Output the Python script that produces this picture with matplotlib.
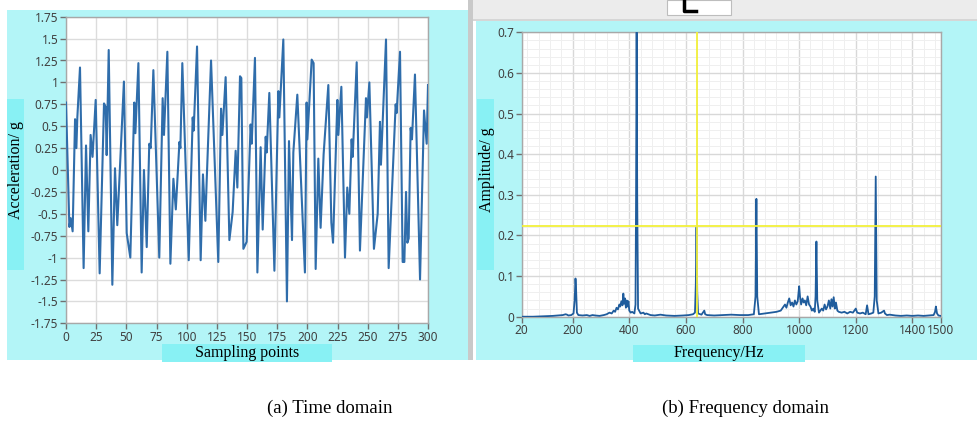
import numpy as np
import matplotlib
matplotlib.use('Agg')
import matplotlib.pyplot as plt
from matplotlib.patches import Rectangle
from matplotlib.lines import Line2D
from matplotlib.ticker import MultipleLocator

# 时域信号（采样点, 加速度）
sample_idx = [0, 2.8, 3.9, 5.5, 7.5, 8.6, 9.4, 11.6, 14.6, 16.6,
              18.5, 20.4, 22.0, 24.6, 27.9, 31.5, 32.9, 33.7, 35.4, 38.4,
              40.6, 42.5, 48.0, 50.3, 53.3, 56.6, 57.5, 60.0, 62.7, 64.6,
              66.9, 69.0, 70.2, 72.4, 77.3, 80.1, 81.2, 84.0, 86.5, 89.0,
              91.0, 94.0, 94.8, 96.4, 101.7, 105.0, 105.8, 108.6, 111.6, 113.5,
              115.5, 116.6, 120.2, 126.2, 128.5, 129.6, 132.3, 135.4, 138.1, 140.6,
              142.0, 144.2, 145.3, 147.0, 149.7, 153.0, 153.9, 156.6, 158.6, 161.3,
              163.0, 165.5, 166.3, 168.5, 172.7, 176.0, 176.8, 180.1, 183.1, 184.8,
              187.3, 188.4, 191.7, 198.0, 199.4, 200.0, 203.6, 205.2, 206.9, 209.1,
              211.0, 213.5, 217.4, 219.9, 221.3, 224.9, 225.7, 228.2, 231.2, 233.1,
              234.8, 236.7, 237.6, 240.9, 243.6, 248.6, 249.4, 251.4, 255.2, 258.3,
              260.2, 261.0, 265.2, 267.4, 273.2, 274.0, 276.8, 279.0, 280.4, 281.8,
              282.9, 284.0, 285.6, 286.7, 289.2, 293.4, 296.7, 298.9, 300.0]
accel_g = [0.77, -0.65, -0.55, -0.70, 0.58, 0.25, 0.60, 1.17, -1.12, 0.28,
           -0.70, 0.40, 0.15, 0.80, -1.18, 0.76, 0.72, 0.17, 1.37, -1.31,
           0.02, -0.63, 1.01, -0.72, -1.00, 0.77, 0.42, 1.22, -1.17, 0.00,
           -0.88, 0.30, 0.25, 1.14, -1.00, 0.82, 0.40, 1.35, -1.07, -0.10,
           -0.45, 0.32, 0.25, 1.22, -1.03, 0.60, 0.45, 1.41, -1.03, -0.05,
           -0.58, -0.12, 1.25, -1.05, 0.70, 0.40, 1.06, -0.80, -0.48, 0.22,
           -0.20, 1.07, 1.05, -0.90, -0.82, 0.52, 0.30, 1.28, -1.17, 0.26,
           -0.68, 0.38, 0.20, 0.88, -1.15, 0.90, 0.60, 1.49, -1.50, 0.33,
           -0.80, 0.20, 0.86, -1.17, 0.77, 0.35, 1.26, 1.22, -1.13, 0.13,
           -0.66, 0.18, 0.97, -0.60, -0.83, 0.80, 0.40, 0.95, -1.00, -0.20,
           -0.50, 0.35, 0.15, 1.23, -0.92, 0.82, 0.60, 1.00, -0.90, -0.50,
           0.55, 0.06, 1.49, -1.12, 0.75, 0.65, 1.35, -1.05, -1.05, -0.25,
           -0.83, -0.78, 0.48, 0.35, 1.09, -1.25, 0.68, 0.30, 0.97]

# 频域幅值谱（频率, 幅值）
freq_hz = [20, 60, 100, 130, 150, 165, 175, 180, 185, 195,
           203, 207, 210, 212, 215, 220, 235, 250, 260, 270,
           280, 295, 310, 320, 330, 338, 345, 350, 355, 360,
           365, 368, 372, 376, 379, 382, 385, 388, 391, 394,
           397, 400, 405, 410, 418, 422, 424, 426, 428, 431,
           440, 450, 455, 460, 475, 490, 510, 530, 560, 590,
           610, 625, 632, 635, 637.5, 640, 643, 655, 665, 668,
           675, 700, 730, 760, 790, 820, 840, 846, 849, 852,
           858, 880, 900, 920, 935, 945, 950, 955, 960, 965,
           970, 975, 980, 985, 990, 995, 1000, 1003, 1007, 1012,
           1016, 1020, 1025, 1030, 1035, 1040, 1045, 1050, 1055, 1058,
           1061, 1064, 1070, 1080, 1085, 1090, 1095, 1100, 1105, 1110,
           1114, 1118, 1122, 1126, 1130, 1135, 1140, 1150, 1160, 1170,
           1180, 1190, 1200, 1205, 1215, 1225, 1235, 1240, 1245, 1255,
           1262, 1267, 1270.5, 1274, 1280, 1290, 1300, 1303, 1310, 1320,
           1340, 1360, 1380, 1400, 1420, 1440, 1460, 1475, 1480, 1483,
           1487, 1492, 1500]
amp_g = [0.000, 0.000, 0.001, 0.002, 0.003, 0.004, 0.006, 0.005, 0.003, 0.004,
         0.008, 0.040, 0.094, 0.070, 0.010, 0.004, 0.003, 0.004, 0.002, 0.004,
         0.003, 0.002, 0.004, 0.006, 0.010, 0.008, 0.015, 0.012, 0.022, 0.018,
         0.030, 0.025, 0.038, 0.028, 0.057, 0.032, 0.045, 0.022, 0.040, 0.025,
         0.038, 0.015, 0.010, 0.012, 0.008, 0.030, 0.300, 0.700, 0.300, 0.020,
         0.008, 0.010, 0.006, 0.008, 0.004, 0.003, 0.005, 0.003, 0.002, 0.003,
         0.004, 0.006, 0.010, 0.080, 0.220, 0.060, 0.008, 0.005, 0.015, 0.006,
         0.004, 0.003, 0.004, 0.005, 0.004, 0.004, 0.006, 0.050, 0.290, 0.050,
         0.006, 0.008, 0.010, 0.012, 0.015, 0.025, 0.030, 0.022, 0.035, 0.045,
         0.028, 0.035, 0.025, 0.040, 0.030, 0.038, 0.075, 0.050, 0.030, 0.045,
         0.035, 0.040, 0.028, 0.050, 0.030, 0.025, 0.015, 0.020, 0.012, 0.050,
         0.185, 0.040, 0.010, 0.020, 0.015, 0.030, 0.018, 0.025, 0.040, 0.020,
         0.043, 0.025, 0.048, 0.020, 0.035, 0.015, 0.012, 0.010, 0.012, 0.008,
         0.012, 0.010, 0.020, 0.010, 0.008, 0.010, 0.006, 0.028, 0.006, 0.008,
         0.010, 0.050, 0.345, 0.040, 0.008, 0.010, 0.015, 0.008, 0.004, 0.005,
         0.003, 0.002, 0.003, 0.002, 0.003, 0.002, 0.003, 0.004, 0.012, 0.025,
         0.008, 0.003, 0.002]

# 游标位置
cursor_f = 637.5
cursor_a = 0.223

time_yticks = [1.75, 1.5, 1.25, 1, 0.75, 0.5, 0.25, 0, -0.25, -0.5, -0.75,
               -1, -1.25, -1.5, -1.75]
freq_xticks = [20, 200, 400, 600, 800, 1000, 1200, 1400, 1500]

W, H = 977, 423
fig = plt.figure(figsize=(W / 100, H / 100), dpi=100)
fig.patch.set_facecolor('white')

panel_c = '#b3f5f7'
label_c = '#88f1f4'
tick_c = '#404040'
line_c = '#2f6dab'
tick_font = 'Noto Sans'
serif = 'Liberation Serif'


def px_rect(x0, y0, x1, y1, color, z=0, **kw):
    # 像素坐标 -> figure 坐标
    r = Rectangle((x0 / W, 1 - y1 / H), (x1 - x0) / W, (y1 - y0) / H,
                  transform=fig.transFigure, facecolor=color, edgecolor=kw.pop('ec', 'none'),
                  zorder=z, **kw)
    fig.add_artist(r)


def px_ax(x0, y0, x1, y1):
    return fig.add_axes([x0 / W, 1 - y1 / H, (x1 - x0) / W, (y1 - y0) / H])


# 背景面板
px_rect(7, 10, 468, 360, panel_c)
px_rect(468, 0, 473, 360, '#c9c9c9')
px_rect(473, 0, 977, 20, '#ececec')
px_rect(473, 19, 977, 21, '#d6d6d6')
px_rect(476, 21, 977, 360, panel_c)
px_rect(667, 0, 731, 15, 'white', z=1, ec='#bdbdbd', lw=0.8)
# 按钮上的小图标
fig.add_artist(Line2D([684 / W, 684 / W, 696 / W], [1, 1 - 11 / H, 1 - 11 / H],
                      transform=fig.transFigure, color='black', lw=2.5, zorder=2))

# 标签底色
px_rect(7, 99, 24, 270, label_c)
px_rect(162, 344, 332, 362, label_c)
px_rect(477, 99, 494, 270, label_c)
px_rect(633, 345, 805, 362, label_c)

# ---------------- (a) 时域 ----------------
ax1 = px_ax(66, 16.7, 428, 323.3)
ax1.plot(sample_idx, accel_g, color=line_c, lw=1.5, zorder=3)
ax1.set_xlim(0, 300)
ax1.set_ylim(-1.75, 1.75)
ax1.set_xticks(np.arange(0, 301, 25))
ax1.set_yticks(time_yticks)
ax1.set_yticklabels(['%g' % v for v in time_yticks])
ax1.grid(True, color='#dcdcdc', lw=1.0)

# ---------------- (b) 频域 ----------------
ax2 = px_ax(521.7, 32.3, 940.7, 316.7)
ax2.plot(freq_hz, amp_g, color='#1f5c9c', lw=1.3, zorder=3)
ax2.axvline(cursor_f, color='#f2f03a', lw=1.3, zorder=4)
ax2.axhline(cursor_a, color='#f2f03a', lw=1.3, zorder=4)
ax2.set_xlim(20, 1500)
ax2.set_ylim(0, 0.7)
ax2.set_xticks(freq_xticks)
ax2.set_yticks(np.arange(0, 0.71, 0.1))
ax2.set_yticklabels(['0'] + ['%.1f' % v for v in np.arange(0.1, 0.71, 0.1)])
ax2.xaxis.set_minor_locator(MultipleLocator(40))
ax2.yaxis.set_minor_locator(MultipleLocator(0.02))
ax2.grid(True, which='major', color='#d8d8d8', lw=1.0)
ax2.grid(True, which='minor', color='#efefef', lw=0.7)

for ax in (ax1, ax2):
    ax.set_facecolor('white')
    ax.set_axisbelow(True)
    for s in ax.spines.values():
        s.set_color('#a8a8a8')
        s.set_linewidth(1.0)
    ax.tick_params(axis='both', which='major', direction='out', length=4, width=1,
                   color='#707070', labelcolor=tick_c, labelsize=8.5, pad=1.5)
    ax.tick_params(axis='both', which='minor', length=0)
    for lab in ax.get_xticklabels() + ax.get_yticklabels():
        lab.set_fontfamily(tick_font)

# 坐标轴标题
fig.text(16 / W, 1 - 170 / H, 'Acceleration/ g', rotation=90, ha='center', va='center',
         family=serif, fontsize=11.5)
fig.text(247 / W, 1 - 353 / H, 'Sampling points', ha='center', va='center',
         family=serif, fontsize=11.5)
fig.text(487 / W, 1 - 170 / H, 'Amplitude/ g', rotation=90, ha='center', va='center',
         family=serif, fontsize=11.5)
fig.text(719 / W, 1 - 353 / H, 'Frequency/Hz', ha='center', va='center',
         family=serif, fontsize=11.5)

# 子图说明
fig.text(330 / W, 1 - 408 / H, '(a) Time domain', ha='center', va='center',
         family=serif, fontsize=13.5)
fig.text(745 / W, 1 - 408 / H, '(b) Frequency domain', ha='center', va='center',
         family=serif, fontsize=13.5)

plt.savefig('out.png', dpi=100)
